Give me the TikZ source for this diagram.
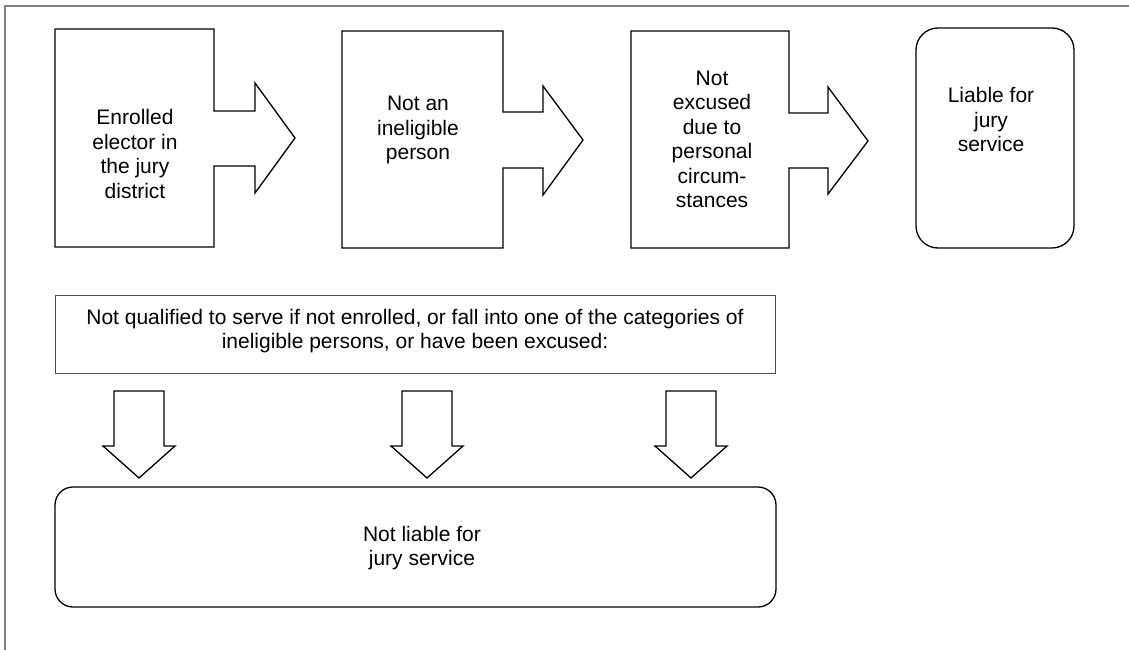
\documentclass[tikz,border=0pt]{standalone}
\usepackage{fontspec}
\setmainfont{Liberation Sans}

\begin{document}
\begin{tikzpicture}[x=1pt,y=-1pt,
  line width=1.3pt, line join=miter,
  lbl/.style={font=\fontsize{21}{24.5}\selectfont, align=center, inner sep=0pt}]
\useasboundingbox (0,0) rectangle (1129,650);

% page frame
\draw[gray, line width=1.5pt] (1129,6) -- (5,6) -- (5,650);

% top row: boxes with arrows
\draw (55,29) -- (214,29) -- (214,111) -- (255,111) -- (255,83) -- (295,138)
  -- (255,193) -- (255,166) -- (214,166) -- (214,247) -- (55,247) -- cycle;
\draw (342,31) -- (503,31) -- (503,112) -- (543,112) -- (543,86) -- (583,140)
  -- (543,195) -- (543,168) -- (503,168) -- (503,248) -- (342,248) -- cycle;
\draw (631,31) -- (789,31) -- (789,113) -- (828,113) -- (828,87) -- (868,141)
  -- (828,194) -- (828,168) -- (789,168) -- (789,248) -- (631,248) -- cycle;
\draw[rounded corners=22pt] (916,28) rectangle (1074,248);

\node[lbl] (enrolled) at (135,154) {Enrolled\\elector in\\the jury\\district};
\node[lbl] (noteligible) at (418,130) {Not an\\ineligible\\person};
\node[lbl] (notexcused) at (712,139.5) {Not\\excused\\due to\\personal\\circum-\\stances};
\node[lbl] (liable) at (991,119.5) {Liable for\\jury\\service};

% bottom part
\draw[gray!60!black, line width=1pt] (55,295) rectangle (775,373);
\node[lbl] (notqualified) at (415,331) {Not qualified to serve if not enrolled, or fall into one of the categories of\\ineligible persons, or have been excused:};

\draw (114,391) -- (164,391) -- (164,446) -- (175,446) -- (139,478)
  -- (103,446) -- (114,446) -- cycle;
\draw (402,391) -- (452,391) -- (452,446) -- (463,446) -- (427,478)
  -- (391,446) -- (402,446) -- cycle;
\draw (666,391) -- (716,391) -- (716,446) -- (727,446) -- (691,478)
  -- (655,446) -- (666,446) -- cycle;

\draw[rounded corners=18pt] (55,487) rectangle (776,607);
\node[lbl] (notliable) at (422,548) {Not liable for\\jury service};
\end{tikzpicture}
\end{document}
